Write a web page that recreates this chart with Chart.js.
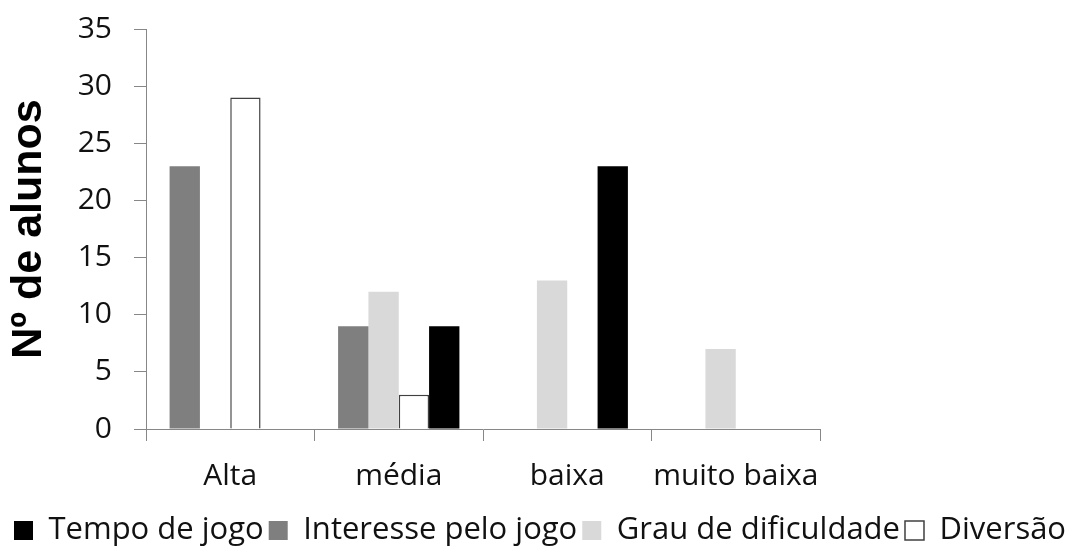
<!DOCTYPE html>
<html>
<head>
<meta charset="utf-8">
<script src="https://cdn.jsdelivr.net/npm/chart.js@4"></script>
<style>
  html, body { margin: 0; padding: 0; background: #fff; }
  #box { width: 1080px; height: 552px; }
</style>
</head>
<body>
<div id="box"><canvas id="Graph" width="1080" height="552"></canvas></div>
<script>
// categorias e número de alunos por critério
var categorias = ["Alta", "média", "baixa", "muito baixa"];
var interesse = [23, 9, 0, 0];
var grau = [0, 12, 13, 7];
var diversao = [29, 3, 0, 0];
var tempo = [0, 9, 23, 0];
var yTicks = [0, 5, 10, 15, 20, 25, 30, 35];

// ordem da legenda (as barras ficam noutra ordem)
var ordemLegenda = ["Tempo de jogo", "Interesse pelo jogo", "Grau de dificuldade", "Diversão"];

var eixo = "#878787";
var texto = "#111";

var chart = new Chart("Graph", {
    type: "bar",
    data: {
        labels: categorias,
        datasets: [
            { label: "Interesse pelo jogo", data: interesse, backgroundColor: "#7f7f7f", borderWidth: 0 },
            { label: "Grau de dificuldade", data: grau, backgroundColor: "#d9d9d9", borderWidth: 0 },
            { label: "Diversão", data: diversao, backgroundColor: "#ffffff", borderColor: "#404040", borderWidth: 1.5 },
            { label: "Tempo de jogo", data: tempo, backgroundColor: "#000000", borderWidth: 0 }
        ]
    },
    options: {
        responsive: false,
        animation: false,
        layout: { padding: { top: 0, left: 0, right: 0, bottom: -4 } },
        datasets: { bar: { categoryPercentage: 0.72, barPercentage: 1.0 } },
        plugins: {
            tooltip: { enabled: false },
            legend: {
                position: "bottom",
                labels: {
                    font: { family: "Open Sans", size: 31 },
                    color: texto,
                    boxWidth: 19,
                    boxHeight: 19,
                    padding: 5,
                    sort: function(a, b) {
                        return ordemLegenda.indexOf(a.text) - ordemLegenda.indexOf(b.text);
                    }
                }
            }
        },
        scales: {
            x: {
                grid: { offset: true, drawOnChartArea: false, drawTicks: true, tickLength: 12, color: eixo },
                border: { color: eixo, width: 1 },
                ticks: { font: { family: "Open Sans", size: 30 }, color: texto, padding: 17, maxRotation: 0, autoSkip: false },
                afterFit: function(scale) { scale.height = 81; }
            },
            y: {
                min: 0,
                max: 35,
                afterBuildTicks: function(scale) {
                    scale.ticks = yTicks.map(function(v) { return { value: v }; });
                },
                afterFit: function(scale) {
                    scale.width = 146;
                    scale.paddingTop = 29;
                    scale.paddingBottom = 0;
                },
                grid: { drawOnChartArea: false, drawTicks: true, tickLength: 12, color: eixo },
                border: { color: eixo, width: 1 },
                ticks: { font: { family: "Open Sans", size: 30 }, color: texto, padding: 22 },
                title: {
                    display: true,
                    text: "Nº de alunos",
                    color: "#000",
                    font: { family: "Liberation Sans", size: 43, weight: "bold" },
                    padding: { top: 3, bottom: 0 }
                }
            },
            // espaço vazio à direita do gráfico
            margem: {
                type: "linear",
                position: "right",
                ticks: { display: false },
                grid: { display: false },
                border: { display: false },
                afterFit: function(scale) { scale.width = 260; scale.paddingTop = 0; scale.paddingBottom = 0; }
            }
        }
    }
});
</script>
</body>
</html>
